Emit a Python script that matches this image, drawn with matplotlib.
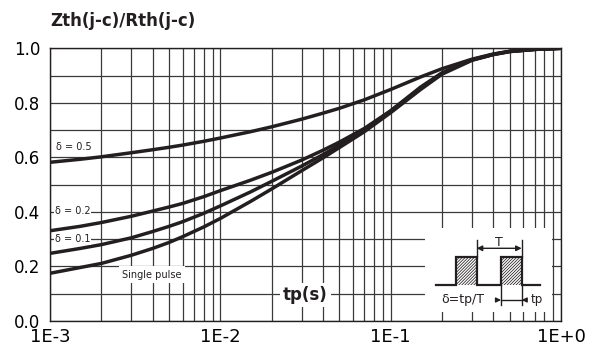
import matplotlib
matplotlib.use("Agg")
import matplotlib.pyplot as plt
from matplotlib.ticker import LogLocator, MultipleLocator, FixedLocator, FixedFormatter, NullFormatter
from matplotlib.patches import Rectangle

# Normalised transient thermal impedance vs pulse width
tp = [1e-3, 1.5e-3, 2e-3, 3e-3, 4e-3, 5e-3, 6e-3, 8e-3, 1e-2, 1.5e-2, 2e-2, 3e-2,
      4e-2, 5e-2, 7e-2, 1e-1, 1.5e-1, 2e-1, 3e-1, 4e-1, 5e-1, 7e-1, 1.0]
z_d05 = [0.582, 0.593, 0.602, 0.617, 0.628, 0.637, 0.645, 0.659, 0.671, 0.694, 0.712, 0.740,
         0.762, 0.780, 0.811, 0.849, 0.895, 0.925, 0.960, 0.979, 0.989, 0.996, 1.000]
z_d02 = [0.331, 0.347, 0.361, 0.384, 0.403, 0.418, 0.431, 0.456, 0.478, 0.516, 0.545, 0.590,
         0.626, 0.656, 0.706, 0.771, 0.858, 0.910, 0.958, 0.978, 0.989, 0.996, 1.000]
z_d01 = [0.248, 0.266, 0.280, 0.305, 0.328, 0.347, 0.364, 0.395, 0.422, 0.473, 0.512, 0.568,
         0.610, 0.645, 0.700, 0.770, 0.854, 0.908, 0.957, 0.977, 0.988, 0.996, 1.000]
z_single = [0.175, 0.196, 0.211, 0.241, 0.266, 0.288, 0.309, 0.345, 0.376, 0.438, 0.484, 0.551,
            0.598, 0.636, 0.694, 0.764, 0.849, 0.905, 0.956, 0.977, 0.988, 0.996, 1.000]

x_ticks = [1e-3, 1e-2, 1e-1, 1.0]
x_tick_labels = ["1E-3", "1E-2", "1E-1", "1E+0"]
y_ticks = [0.0, 0.2, 0.4, 0.6, 0.8, 1.0]
y_tick_labels = ["0.0", "0.2", "0.4", "0.6", "0.8", "1.0"]

plt.rcParams["font.family"] = ["DejaVu Sans"]

W, H = 596, 354
fig = plt.figure(figsize=(W / 100, H / 100), dpi=100)
ax = fig.add_axes([50 / W, 1 - 321 / H, 511 / W, 272.7 / H])

ax.set_xscale("log")
ax.set_xlim(1e-3, 1.0)
ax.set_ylim(0.0, 1.0)

ax.xaxis.set_major_locator(FixedLocator(x_ticks))
ax.xaxis.set_major_formatter(FixedFormatter(x_tick_labels))
ax.xaxis.set_minor_locator(LogLocator(base=10, subs=range(2, 10)))
ax.xaxis.set_minor_formatter(NullFormatter())
ax.yaxis.set_major_locator(FixedLocator(y_ticks))
ax.yaxis.set_major_formatter(FixedFormatter(y_tick_labels))
ax.yaxis.set_minor_locator(MultipleLocator(0.1))

ax.tick_params(which="both", length=0)
ax.tick_params(axis="x", labelsize=13, pad=5)
ax.tick_params(axis="y", labelsize=12, pad=7)

ax.grid(which="both", color="#3a3a3a", linewidth=0.9)
ax.set_axisbelow(True)
for s in ax.spines.values():
    s.set_color("#231f20")
    s.set_linewidth(1.0)

curve_kw = dict(color="#231f20", linewidth=2.5, solid_capstyle="butt",
                solid_joinstyle="round", zorder=3)
ax.plot(tp, z_d05, **curve_kw)
ax.plot(tp, z_d02, **curve_kw)
ax.plot(tp, z_d01, **curve_kw)
ax.plot(tp, z_single, **curve_kw)

box = dict(facecolor="white", edgecolor="none", pad=0.6)
lab_kw = dict(transform=ax.transAxes, fontsize=7, ha="center", va="center",
              color="#231f20", zorder=4)
ax.text(0.047, 0.639, "δ = 0.5", bbox=box, **lab_kw)
ax.text(0.044, 0.403, "δ = 0.2", bbox=box, **lab_kw)
ax.text(0.044, 0.300, "δ = 0.1", bbox=box, **lab_kw)
ax.text(0.200, 0.169, "Single pulse", bbox=dict(facecolor="white", edgecolor="none", pad=2.5),
        **lab_kw)
ax.text(0.500, 0.095, "tp(s)", transform=ax.transAxes, fontsize=12, fontweight="bold",
        ha="center", va="center", color="#231f20", zorder=4,
        bbox=dict(facecolor="white", edgecolor="none", pad=2.0))

fig.text(50 / W, 1 - 26 / H, "Zth(j-c)/Rth(j-c)", fontsize=12, fontweight="bold",
         ha="left", va="baseline", color="#231f20")

# Duty-cycle sketch
ins = fig.add_axes([425 / W, 1 - 312 / H, 127 / W, 84 / H])
ins.set_xlim(0, 127)
ins.set_ylim(0, 84)
ins.set_xticks([])
ins.set_yticks([])
for s in ins.spines.values():
    s.set_visible(False)
ins.set_facecolor("white")

k = "#231f20"
for x0 in (30.7, 76):
    rect = Rectangle((x0, 27), 21, 28.3, facecolor="white", edgecolor="none")
    ins.add_patch(rect)
    for c in range(-30, 24, 3):
        hl, = ins.plot([x0 + c, x0 + c + 40], [27, 67], color=k, lw=0.55)
        hl.set_clip_path(rect)
ins.plot([11, 30.7, 30.7, 51.7, 51.7, 76, 76, 96.7, 96.7, 115],
         [27, 27, 55.3, 55.3, 27, 27, 55.3, 55.3, 27, 27], color=k, lw=1.6,
         solid_joinstyle="miter")
ins.plot([51.7, 51.7], [55.3, 72], color=k, lw=1.0)
ins.plot([96.7, 96.7], [55.3, 72], color=k, lw=1.0)
ins.annotate("", xy=(51.7, 63.7), xytext=(96.7, 63.7),
             arrowprops=dict(arrowstyle="<|-|>", color=k, lw=1.0,
                             mutation_scale=8, shrinkA=0, shrinkB=0))
ins.text(73.5, 70, "T", fontsize=9, ha="center", va="center", color=k)
ins.plot([76, 76], [7, 27], color=k, lw=1.0)
ins.plot([96.7, 96.7], [7, 27], color=k, lw=1.0)
ins.annotate("", xy=(76, 12), xytext=(71, 12),
             arrowprops=dict(arrowstyle="-|>", color=k, lw=1.0,
                             mutation_scale=7, shrinkA=0, shrinkB=0))
ins.annotate("", xy=(96.7, 12), xytext=(101.7, 12),
             arrowprops=dict(arrowstyle="-|>", color=k, lw=1.0,
                             mutation_scale=7, shrinkA=0, shrinkB=0))
ins.plot([76, 96.7], [12, 12], color=k, lw=1.0)
ins.text(37.5, 12, "δ=tp/T", fontsize=9, ha="center", va="center", color=k)
ins.text(111.5, 12, "tp", fontsize=8.5, ha="center", va="center", color=k)

fig.savefig("out.png", dpi=100, facecolor="white")
